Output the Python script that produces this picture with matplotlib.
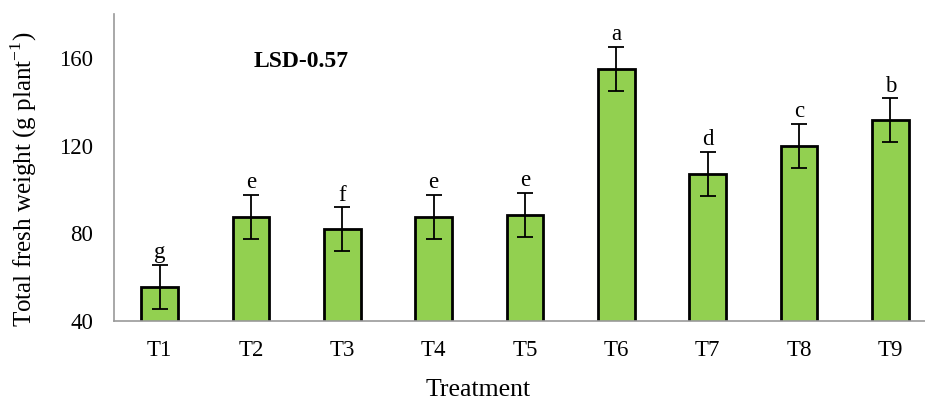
import matplotlib
matplotlib.use("Agg")
import matplotlib.pyplot as plt

treatments = ["T1", "T2", "T3", "T4", "T5", "T6", "T7", "T8", "T9"]
weights = [55.7, 87.6, 81.8, 87.5, 88.4, 155.1, 107.0, 119.9, 131.5]
errors = [10, 10, 10, 10, 10, 10, 10, 10, 10]
letters = ["g", "e", "f", "e", "e", "a", "d", "c", "b"]
yticks = [40, 80, 120, 160]

plt.rcParams['font.family'] = ['Liberation Serif', 'DejaVu Serif']
plt.rcParams['mathtext.fontset'] = 'custom'
plt.rcParams['mathtext.rm'] = 'Liberation Serif'

fig = plt.figure(figsize=(9.25, 4.05), dpi=100)
ax = fig.add_axes([0.1232, 0.2074, 0.8768, 0.758])

x = list(range(len(treatments)))
ax.bar(x, weights, width=0.40, color="#92D050", edgecolor="black", linewidth=2.0,
       yerr=errors, error_kw=dict(ecolor="black", elinewidth=1.3, capsize=6, capthick=1.3),
       bottom=0, zorder=2)
for xi, w, e, l in zip(x, weights, errors, letters):
    ax.text(xi, w + e + 0.8, l, ha="center", va="bottom", fontsize=16.5)

ax.set_ylim(40, 180)
ax.set_xlim(-0.5, 8.38)
ax.set_yticks(yticks)
ax.set_xticks(x)
ax.set_xticklabels(treatments)
ax.tick_params(axis="both", length=0, labelsize=16.5)
ax.tick_params(axis="x", pad=14)
ax.tick_params(axis="y", pad=15)

for s in ["top", "right"]:
    ax.spines[s].set_visible(False)
for s in ["left", "bottom"]:
    ax.spines[s].set_color("#999999")
    ax.spines[s].set_linewidth(1.2)

ax.set_xlabel("Treatment", fontsize=18.5)
ax.xaxis.set_label_coords(0.449, -0.19)
ax.set_ylabel("Total fresh weight (g plant$^{\\mathregular{-1}}$)", fontsize=18)
ax.yaxis.set_label_coords(-0.093, 0.46)
ax.text(1.55, 158.5, "LSD-0.57", fontsize=17, fontweight="bold", ha="center", va="center")

fig.savefig("out.png", dpi=100)
